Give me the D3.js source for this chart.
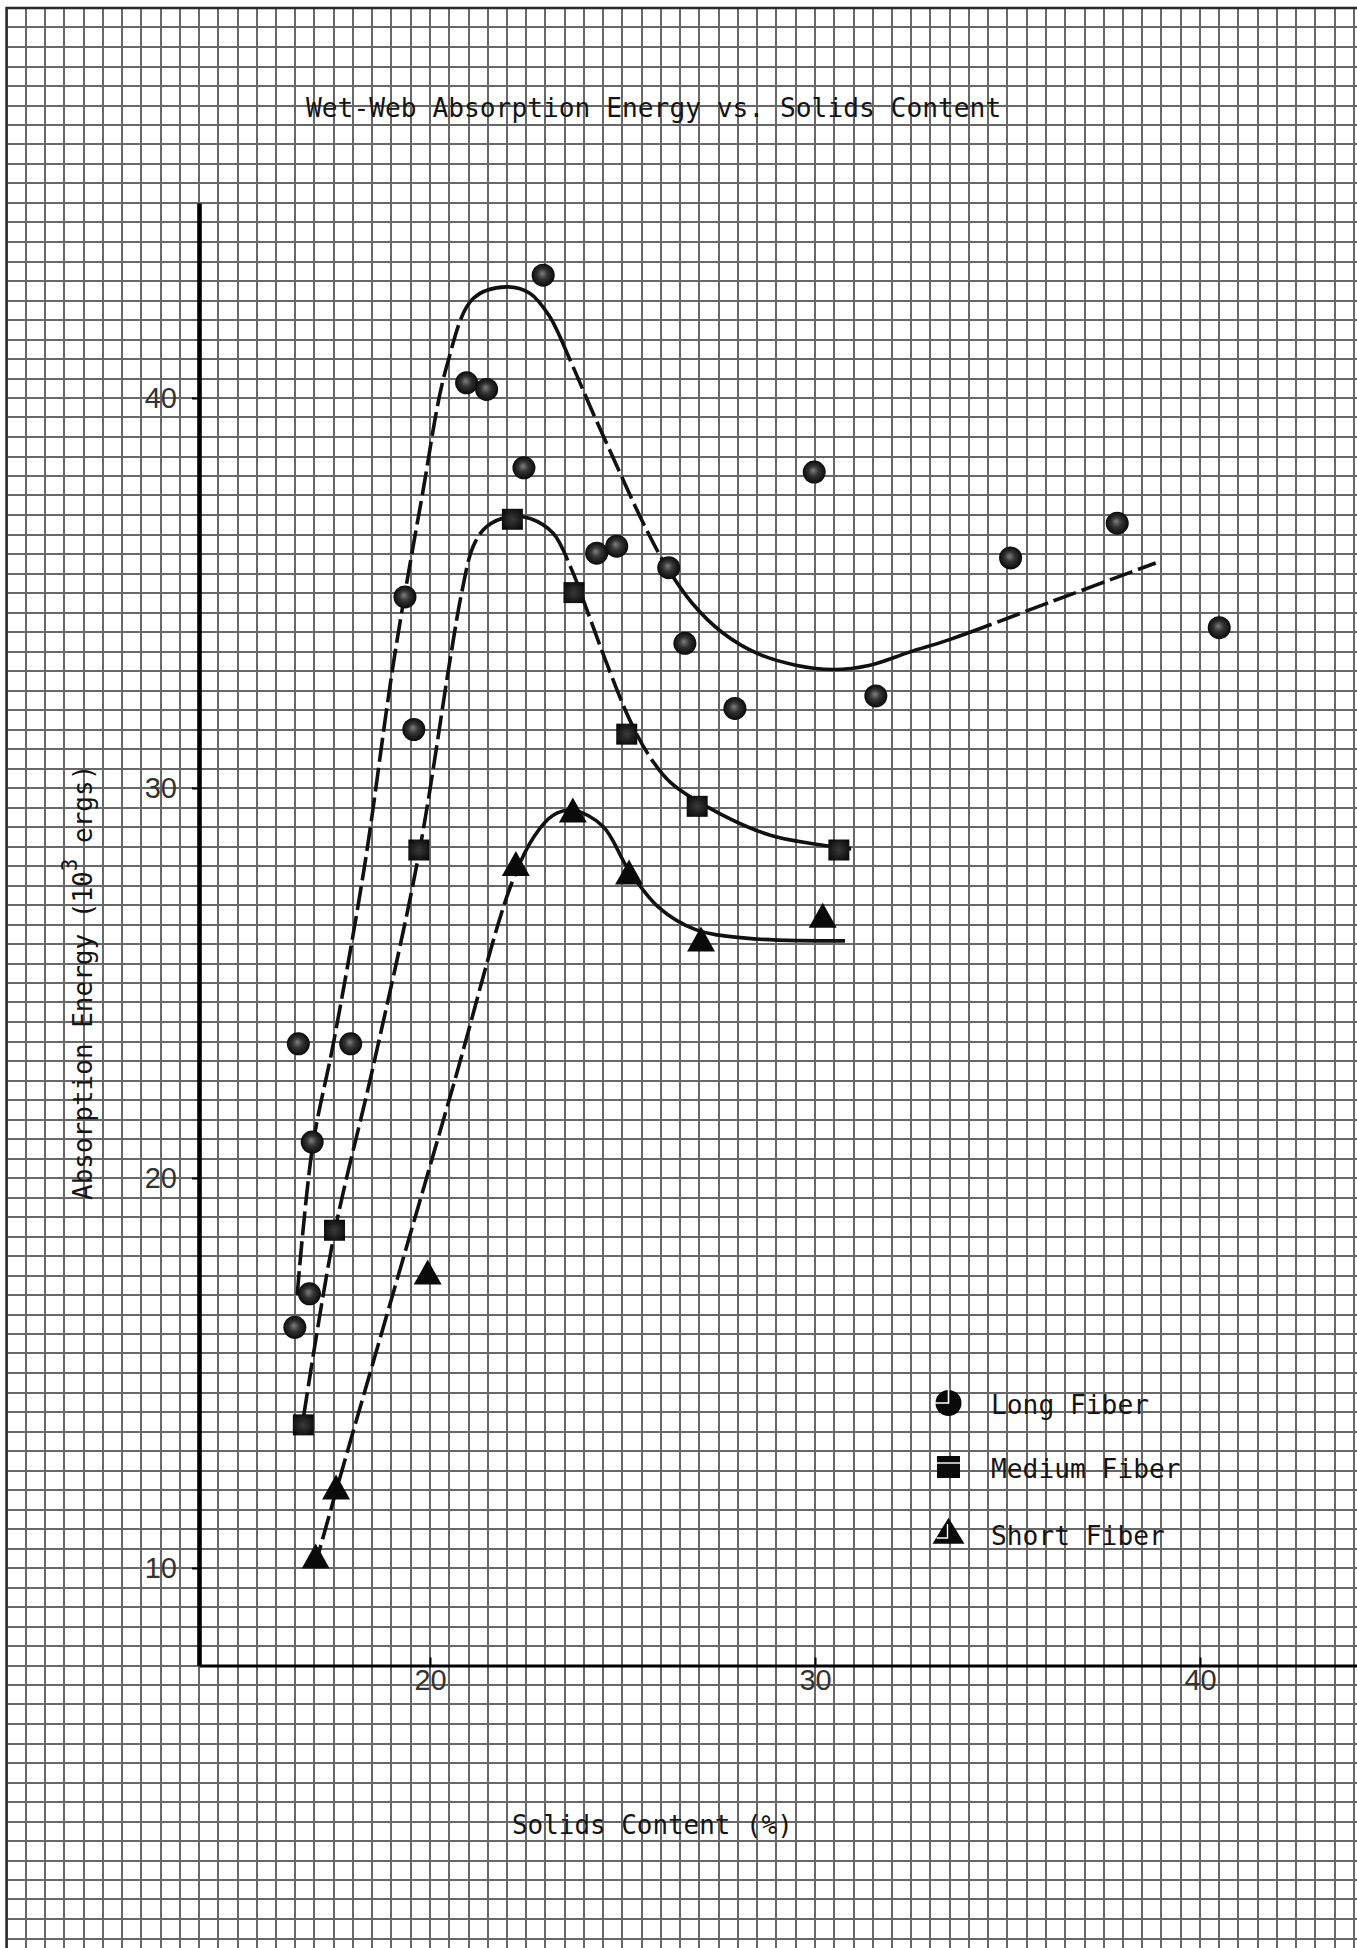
<!DOCTYPE html>
<html>
<head>
<meta charset="utf-8">
<script src="https://cdn.jsdelivr.net/npm/d3@7"></script>
<style>
  html, body { margin: 0; padding: 0; background: #fff; }
  svg { display: block; }
</style>
</head>
<body>
<svg id="chart" width="1357" height="1948"></svg>
<script>
// ---- measured points ----
const longFiberX = [16.49, 16.58, 16.87, 16.94, 17.94, 19.35, 19.58, 20.95, 21.47, 22.44, 22.94, 24.33, 24.85, 26.2, 26.62, 27.92, 29.98, 31.58, 35.08, 37.85, 40.5];
const longFiberY = [16.17, 23.44, 17.03, 20.92, 23.44, 34.9, 31.5, 40.39, 40.22, 38.21, 43.15, 36.02, 36.2, 35.65, 33.71, 32.04, 38.1, 32.36, 35.9, 36.79, 34.11];

const mediumFiberX = [16.71, 17.52, 19.71, 22.14, 23.74, 25.11, 26.94, 30.62];
const mediumFiberY = [13.67, 18.66, 28.41, 36.89, 35.01, 31.38, 29.53, 28.41];

const shortFiberX = [17.03, 17.56, 19.94, 22.23, 23.71, 25.17, 27.04, 30.2];
const shortFiberY = [10.2, 11.97, 17.48, 27.96, 29.33, 27.74, 26.02, 26.63];

// ---- hand-faired trend curves ----
const longCurveX = [16.55, 16.95, 17.5, 18.3, 19.05, 19.78, 20.43, 21.12, 21.99, 22.6, 23.1, 23.64, 24.16, 24.94, 25.54, 26.1, 26.8, 27.6, 28.5, 29.5, 30.48, 31.43, 32.47, 33.51, 36.2, 38.85];
const longCurveY = [17.0, 20.8, 23.5, 28.0, 33.2, 37.4, 40.8, 42.55, 42.85, 42.68, 42.1, 40.97, 39.78, 38.07, 36.79, 35.75, 34.75, 33.98, 33.45, 33.15, 33.04, 33.15, 33.49, 33.81, 34.8, 35.77];

const mediumCurveX = [16.72, 17.52, 18.51, 19.71, 20.52, 20.82, 21.12, 21.47, 22.08, 22.6, 23.2, 23.68, 24.1, 24.55, 25.19, 25.71, 26.26, 27.55, 28.84, 30.94];
const mediumCurveY = [13.9, 18.6, 22.8, 28.3, 33.28, 34.99, 36.19, 36.7, 36.96, 36.91, 36.53, 35.6, 34.5, 33.3, 31.74, 30.8, 30.13, 29.33, 28.79, 28.44];

const shortCurveX = [17.0, 17.56, 19.0, 20.6, 22.1, 22.7, 23.2, 23.71, 24.49, 25.16, 25.94, 26.9, 28.2, 30.78];
const shortCurveY = [10.0, 11.97, 16.9, 22.35, 27.5, 28.75, 29.3, 29.43, 29.02, 27.9, 26.94, 26.37, 26.15, 26.08];

// ---- tick labels and text ----
const xTickValues = [20, 30, 40];
const yTickValues = [10, 20, 30, 40];
const seriesNames = ["Long Fiber", "Medium Fiber", "Short Fiber"];
const titleText = "Wet-Web Absorption Energy vs. Solids Content";
const xLabelText = "Solids Content (%)";
const yLabelParts = ["Absorption Energy (10", "3", " ergs)"];

// ---- drawing ----
const svg = d3.select("#chart");
const W = 1357, H = 1948;
const MONO = "'DejaVu Sans Mono', 'Liberation Mono', monospace";
const CHAR_W = 15.8;

const x = d3.scaleLinear().domain([14, 14 + 1158 / 38.5]).range([199, 1357]);
const y = d3.scaleLinear().domain([7.5, 45]).range([1665.5, 203]);

svg.append("rect").attr("width", W).attr("height", H).attr("fill", "#fff");

// graph paper: one cell = 0.5 units on both axes
const grid = svg.append("g")
  .attr("stroke", "#686868").attr("stroke-width", 2)
  .attr("shape-rendering", "crispEdges");
grid.selectAll("line.v").data(d3.range(9, 44.6, 0.5)).join("line")
  .attr("class", "v")
  .attr("x1", d => Math.round(x(d))).attr("x2", d => Math.round(x(d)))
  .attr("y1", Math.round(y(50))).attr("y2", H);
grid.selectAll("line.h").data(d3.range(0.5, 50.01, 0.5)).join("line")
  .attr("class", "h")
  .attr("x1", Math.round(x(9))).attr("x2", W)
  .attr("y1", d => Math.round(y(d))).attr("y2", d => Math.round(y(d)));

// sheet edge
svg.append("path")
  .attr("d", `M${x(9)},${H} L${x(9)},${y(50)} L${W},${y(50)}`)
  .attr("fill", "none").attr("stroke", "#2a2a2a").attr("stroke-width", 2.4);

// axes
const yAxis = svg.append("g")
  .attr("transform", `translate(${x(14)},0)`)
  .call(d3.axisLeft(y).tickValues(yTickValues).tickFormat(d3.format("d"))
    .tickSizeInner(7).tickSizeOuter(0).tickPadding(15));
yAxis.select(".domain").attr("stroke", "#000").attr("stroke-width", 4.6);
yAxis.selectAll(".tick line").attr("stroke", "#000").attr("stroke-width", 2);
yAxis.selectAll(".tick text")
  .attr("font-family", "'Liberation Sans', Arial, sans-serif")
  .attr("font-size", 29).attr("fill", "#333");

const xAxis = svg.append("g")
  .attr("transform", `translate(0,${y(7.5)})`)
  .call(d3.axisBottom(x).tickValues(xTickValues).tickFormat(d3.format("d"))
    .tickSizeInner(-8).tickSizeOuter(0).tickPadding(4));
xAxis.select(".domain").attr("stroke", "#000").attr("stroke-width", 3.2);
xAxis.selectAll(".tick line").attr("stroke", "#000").attr("stroke-width", 2);
xAxis.selectAll(".tick text")
  .attr("font-family", "'Liberation Sans', Arial, sans-serif")
  .attr("font-size", 29).attr("fill", "#333");

// trend curves, dashed where the pen skipped
const line = d3.line().x(d => x(d[0])).y(d => y(d[1])).curve(d3.curveCatmullRom.alpha(0.5));

function dashArrayFor(node, ranges) {
  const L = node.getTotalLength();
  const dash = 24, gap = 6, period = dash + gap, step = 0.5;
  const runs = [];
  let state = true, runLen = 0, regionStart = null;
  for (let s = 0; s <= L; s += step) {
    const px = x.invert(node.getPointAtLength(s).x);
    const inside = ranges.some(r => px >= r[0] && px <= r[1]);
    let draw = true;
    if (inside) {
      if (regionStart === null) regionStart = s;
      draw = ((s - regionStart) % period) < dash;
    } else {
      regionStart = null;
    }
    if (draw !== state) { runs.push(runLen); runLen = 0; state = draw; }
    runLen += step;
  }
  runs.push(runLen);
  if (runs.length % 2 === 1) runs.push(0);
  return runs.join(" ");
}

const curves = [
  { xs: longCurveX, ys: longCurveY, dashed: [[16, 20.9], [23.4, 26.0], [34.0, 39.5]] },
  { xs: mediumCurveX, ys: mediumCurveY, dashed: [[16, 21.3], [23.3, 25.8]] },
  { xs: shortCurveX, ys: shortCurveY, dashed: [[16, 22.4]] }
];
const curveG = svg.append("g");
curves.forEach(c => {
  const pts = c.xs.map((v, i) => [v, c.ys[i]]);
  const p = curveG.append("path")
    .attr("d", line(pts))
    .attr("fill", "none")
    .attr("stroke", "#111")
    .attr("stroke-width", 3.6)
    .attr("stroke-linecap", "butt");
  p.attr("stroke-dasharray", dashArrayFor(p.node(), c.dashed));
});

// marker fills
const defs = svg.append("defs");
const rg = defs.append("radialGradient").attr("id", "ball")
  .attr("cx", "50%").attr("cy", "50%").attr("r", "50%").attr("fx", "45%").attr("fy", "42%");
rg.append("stop").attr("offset", "0%").attr("stop-color", "#7e7e7e");
rg.append("stop").attr("offset", "45%").attr("stop-color", "#333");
rg.append("stop").attr("offset", "100%").attr("stop-color", "#0a0a0a");
const sg = defs.append("radialGradient").attr("id", "block")
  .attr("cx", "50%").attr("cy", "50%").attr("r", "60%");
sg.append("stop").attr("offset", "0%").attr("stop-color", "#3a3a3a");
sg.append("stop").attr("offset", "100%").attr("stop-color", "#0a0a0a");

function trianglePath(cx, cy, w, h) {
  return `M${cx},${cy - 2 * h / 3} L${cx + w / 2},${cy + h / 3} L${cx - w / 2},${cy + h / 3} Z`;
}

const marks = svg.append("g");
marks.selectAll("circle.long").data(longFiberX.map((v, i) => [v, longFiberY[i]])).join("circle")
  .attr("class", "long")
  .attr("cx", d => x(d[0])).attr("cy", d => y(d[1])).attr("r", 11.5)
  .attr("fill", "url(#ball)");
marks.selectAll("rect.medium").data(mediumFiberX.map((v, i) => [v, mediumFiberY[i]])).join("rect")
  .attr("class", "medium")
  .attr("x", d => x(d[0]) - 10.5).attr("y", d => y(d[1]) - 10.5)
  .attr("width", 21).attr("height", 21)
  .attr("fill", "url(#block)");
marks.selectAll("path.short").data(shortFiberX.map((v, i) => [v, shortFiberY[i]])).join("path")
  .attr("class", "short")
  .attr("d", d => trianglePath(x(d[0]), y(d[1]), 28, 25))
  .attr("fill", "#0a0a0a");

// legend
const legend = svg.append("g");
const legendRows = [1403, 1467, 1534];
const legendMarkX = 948.5, legendTextX = 991;
legend.append("circle").attr("cx", legendMarkX).attr("cy", legendRows[0]).attr("r", 13).attr("fill", "#0a0a0a");
legend.append("path")
  .attr("d", `M${legendMarkX - 16},${legendRows[0]} L${legendMarkX},${legendRows[0]} L${legendMarkX},${legendRows[0] - 14}`)
  .attr("fill", "none").attr("stroke", "#fff").attr("stroke-width", 1.6);
legend.append("rect").attr("x", legendMarkX - 11.5).attr("y", legendRows[1] - 11)
  .attr("width", 23).attr("height", 22).attr("fill", "#0a0a0a");
legend.append("line").attr("x1", legendMarkX - 11.5).attr("x2", legendMarkX + 11.5)
  .attr("y1", legendRows[1] - 4).attr("y2", legendRows[1] - 4)
  .attr("stroke", "#fff").attr("stroke-width", 1.4);
legend.append("path").attr("d", trianglePath(legendMarkX, legendRows[2] + 1, 32, 26)).attr("fill", "#0a0a0a");
legend.append("path")
  .attr("d", `M${legendMarkX - 12},${legendRows[2] + 4} L${legendMarkX - 1},${legendRows[2] + 4} L${legendMarkX - 1},${legendRows[2] - 10}`)
  .attr("fill", "none").attr("stroke", "#fff").attr("stroke-width", 1.4);
legend.selectAll("text").data(seriesNames).join("text")
  .attr("x", legendTextX)
  .attr("y", (d, i) => legendRows[i] + 10.5)
  .attr("font-family", MONO).attr("font-size", 27).attr("fill", "#151515")
  .attr("textLength", d => d.length * CHAR_W).attr("lengthAdjust", "spacingAndGlyphs")
  .text(d => d);

// title and axis titles
svg.append("text")
  .attr("x", 306).attr("y", 117)
  .attr("font-family", MONO).attr("font-size", 27).attr("fill", "#151515")
  .attr("textLength", titleText.length * CHAR_W).attr("lengthAdjust", "spacingAndGlyphs")
  .text(titleText);

svg.append("text")
  .attr("x", 512).attr("y", 1834)
  .attr("font-family", MONO).attr("font-size", 27).attr("fill", "#151515")
  .attr("textLength", xLabelText.length * 15.6).attr("lengthAdjust", "spacingAndGlyphs")
  .text(xLabelText);

const yl = svg.append("text")
  .attr("transform", "translate(92,1200) rotate(-90)")
  .attr("font-family", MONO).attr("font-size", 26).attr("fill", "#151515");
yl.append("tspan").text(yLabelParts[0]);
yl.append("tspan").attr("dy", -15).attr("font-size", 21).text(yLabelParts[1]);
yl.append("tspan").attr("dy", 15).text(yLabelParts[2]);
</script>
</body>
</html>
